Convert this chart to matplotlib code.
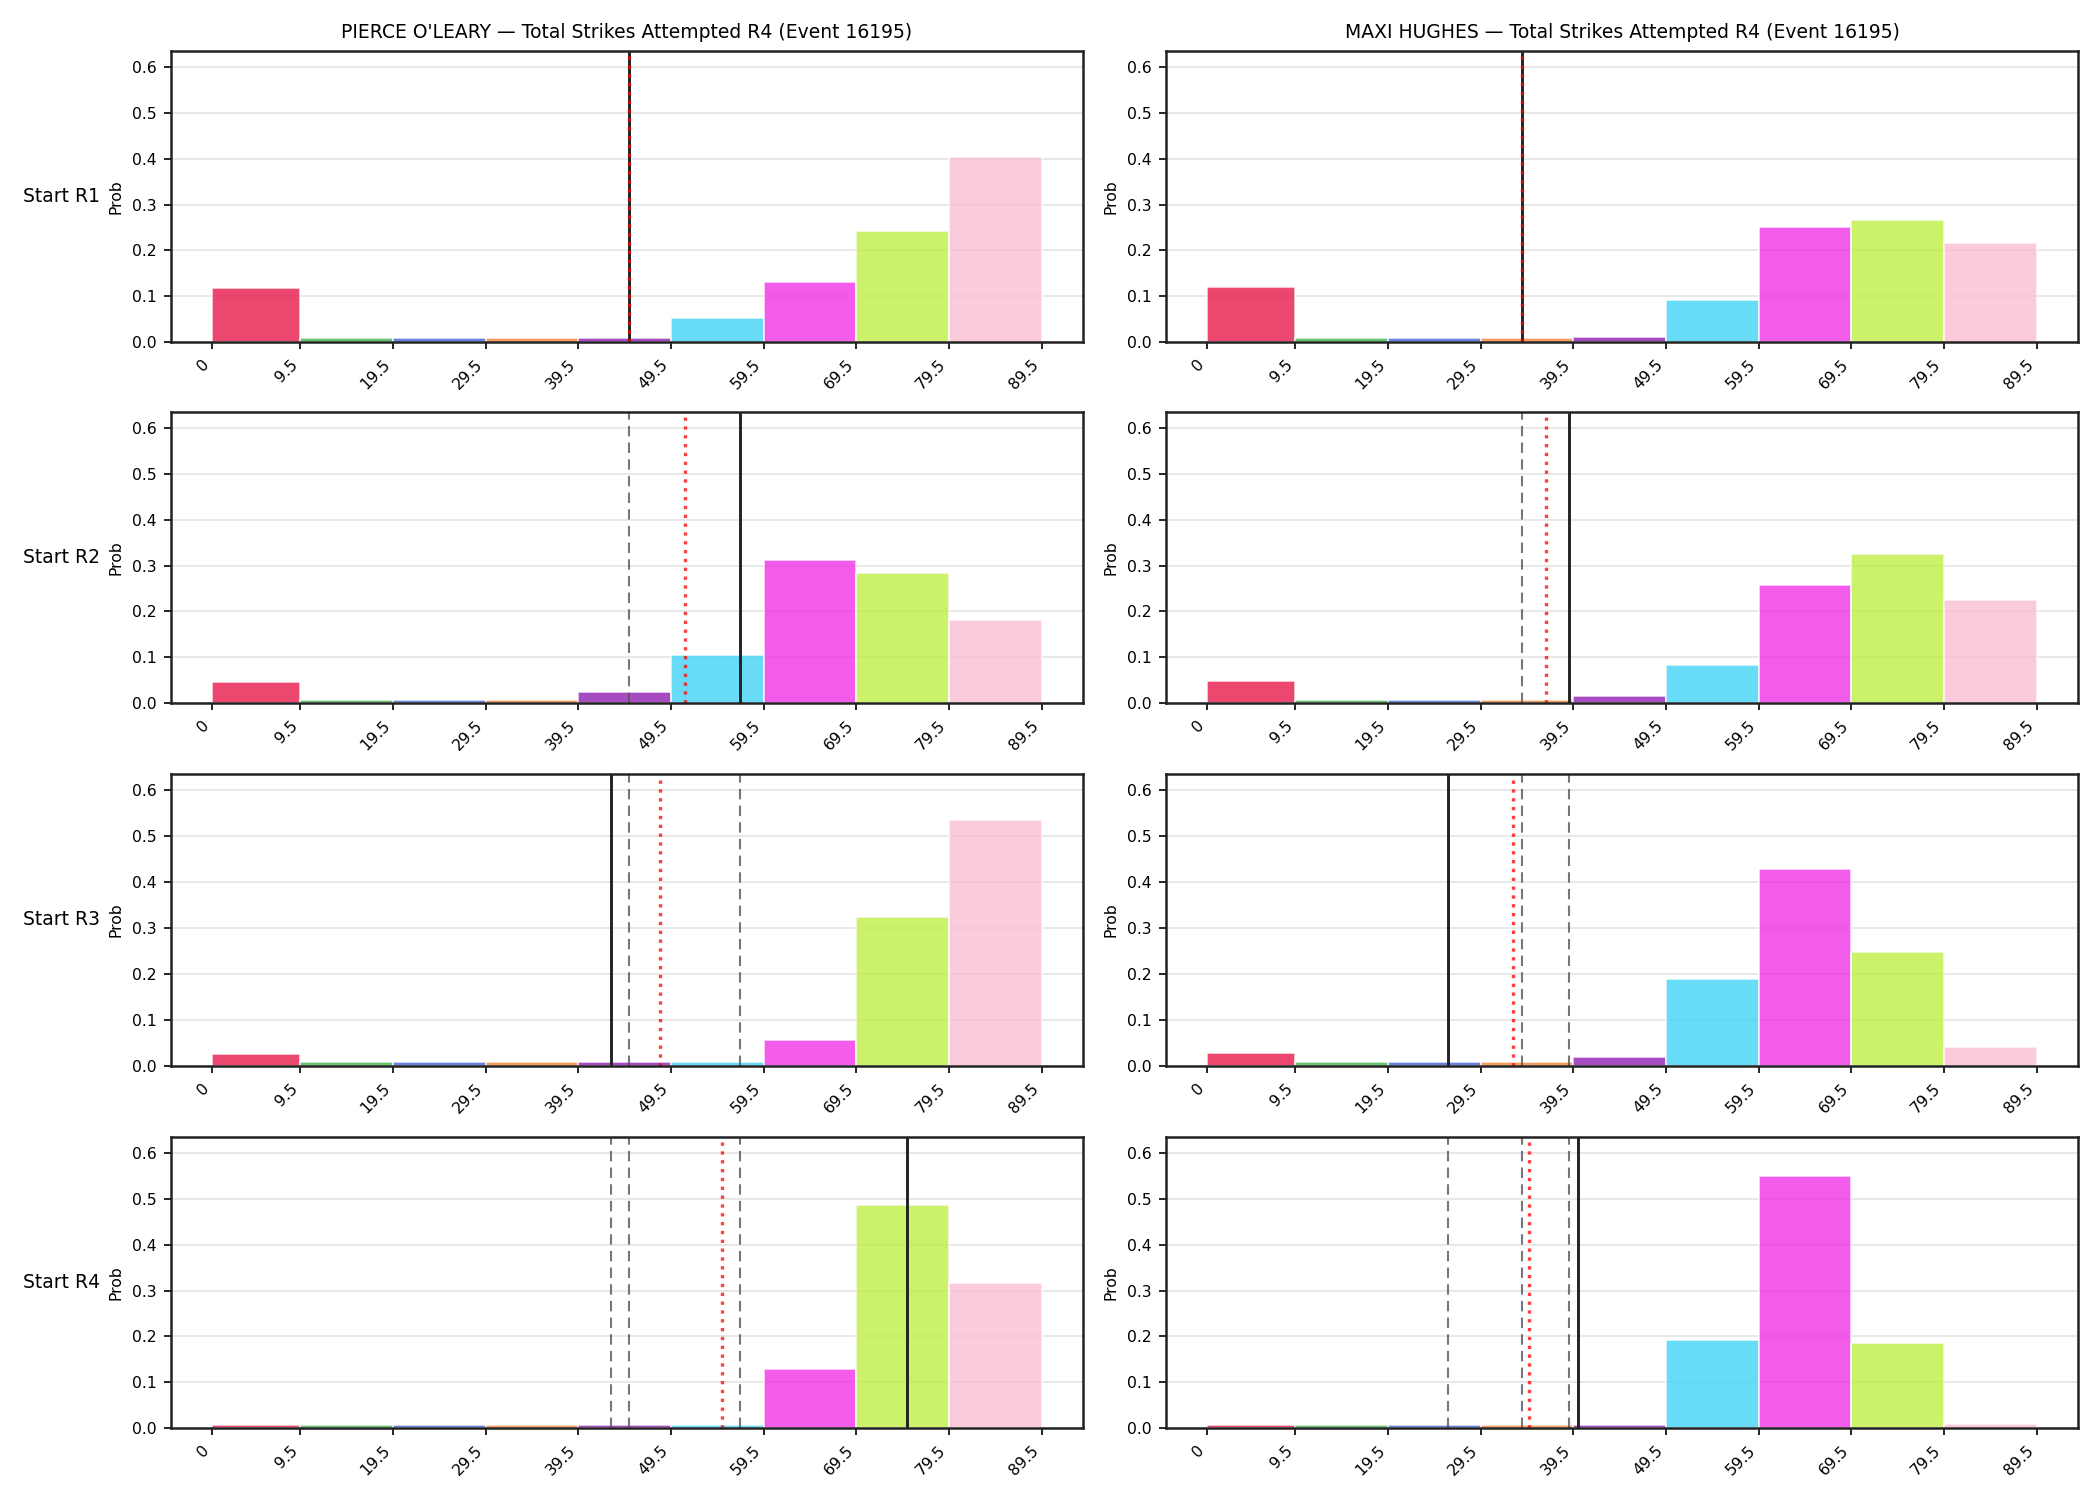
import matplotlib
matplotlib.use("Agg")
import matplotlib.pyplot as plt
import numpy as np

# ---- data ----
bin_edges = [0, 9.5, 19.5, 29.5, 39.5, 49.5, 59.5, 69.5, 79.5, 89.5]
tick_labels = ["0", "9.5", "19.5", "29.5", "39.5", "49.5", "59.5", "69.5", "79.5", "89.5"]
bar_colors = ["#e6194b", "#3cb44b", "#4363d8", "#f58231", "#911eb4",
              "#42d4f4", "#f032e6", "#bfef45", "#fabed4"]

fighters = ["PIERCE O'LEARY", "MAXI HUGHES"]
row_labels = ["Start R1", "Start R2", "Start R3", "Start R4"]

# probabilities per row for each fighter
oleary_probs = [
    [0.118, 0.008, 0.008, 0.008, 0.008, 0.052, 0.132, 0.243, 0.404],
    [0.045, 0.006, 0.006, 0.006, 0.024, 0.104, 0.312, 0.283, 0.181],
    [0.026, 0.008, 0.008, 0.008, 0.008, 0.008, 0.056, 0.324, 0.535],
    [0.006, 0.006, 0.006, 0.006, 0.006, 0.006, 0.128, 0.487, 0.316],
]
hughes_probs = [
    [0.121, 0.008, 0.008, 0.008, 0.010, 0.091, 0.252, 0.267, 0.215],
    [0.047, 0.006, 0.006, 0.006, 0.015, 0.082, 0.257, 0.325, 0.224],
    [0.028, 0.008, 0.008, 0.008, 0.019, 0.189, 0.428, 0.247, 0.041],
    [0.006, 0.006, 0.006, 0.006, 0.006, 0.191, 0.550, 0.185, 0.008],
]
# line value at each start (solid black), running mean (red dotted)
oleary_lines = [45, 57, 43, 75]
oleary_means = [45, 51, 48.33, 55]
hughes_lines = [34, 39, 26, 40]
hughes_means = [34, 36.5, 33, 34.75]

probs = [oleary_probs, hughes_probs]
lines = [oleary_lines, hughes_lines]
means = [oleary_means, hughes_means]

# ---- figure ----
fig = plt.figure(figsize=(14, 10), dpi=150)

col_x = [(171, 1083), (1166, 2078)]
row_y = [(51, 342), (412, 703), (774, 1066), (1137, 1428)]
W, H = 2100, 1500

lefts = np.array(bin_edges[:-1])
widths = np.diff(bin_edges)

for c in range(2):
    for r in range(4):
        x0, x1 = col_x[c]
        yt, yb = row_y[r]
        ax = fig.add_axes([x0 / W, 1 - yb / H, (x1 - x0) / W, (yb - yt) / H])
        ax.bar(lefts, probs[c][r], width=widths, align="edge",
               color=bar_colors, alpha=0.8, edgecolor="white", linewidth=0.8)
        for k in range(r):
            ax.axvline(lines[c][k], color="#555555", linestyle=(0, (5, 3)),
                       linewidth=1.0, alpha=0.8)
        ax.axvline(lines[c][r], color="#222222", linestyle="-", linewidth=1.4)
        ax.axvline(means[c][r], color="red", linestyle=":", linewidth=1.6, alpha=0.75)
        ax.set_ylim(0, 0.635)
        ax.set_yticks([0, 0.1, 0.2, 0.3, 0.4, 0.5, 0.6])
        ax.set_yticklabels(["0.0", "0.1", "0.2", "0.3", "0.4", "0.5", "0.6"], fontsize=7.5)
        ax.set_xticks(bin_edges)
        ax.set_xticklabels(tick_labels, rotation=45, ha="right", fontsize=7.5)
        ax.grid(axis="y", color="#dddddd", linewidth=0.8, alpha=0.8)
        ax.set_axisbelow(True)
        ax.set_ylabel("Prob", fontsize=7.5)
        for s in ax.spines.values():
            s.set_linewidth(1.2)
            s.set_color("#222222")
        if r == 0:
            ax.set_title(f"{fighters[c]} — Total Strikes Attempted R4 (Event 16195)", fontsize=9)
        if c == 0:
            fig.text(23 / W, 1 - ((yt + yb) / 2) / H, row_labels[r], fontsize=9,
                     ha="left", va="center")

fig.savefig("out.png", dpi=150)
